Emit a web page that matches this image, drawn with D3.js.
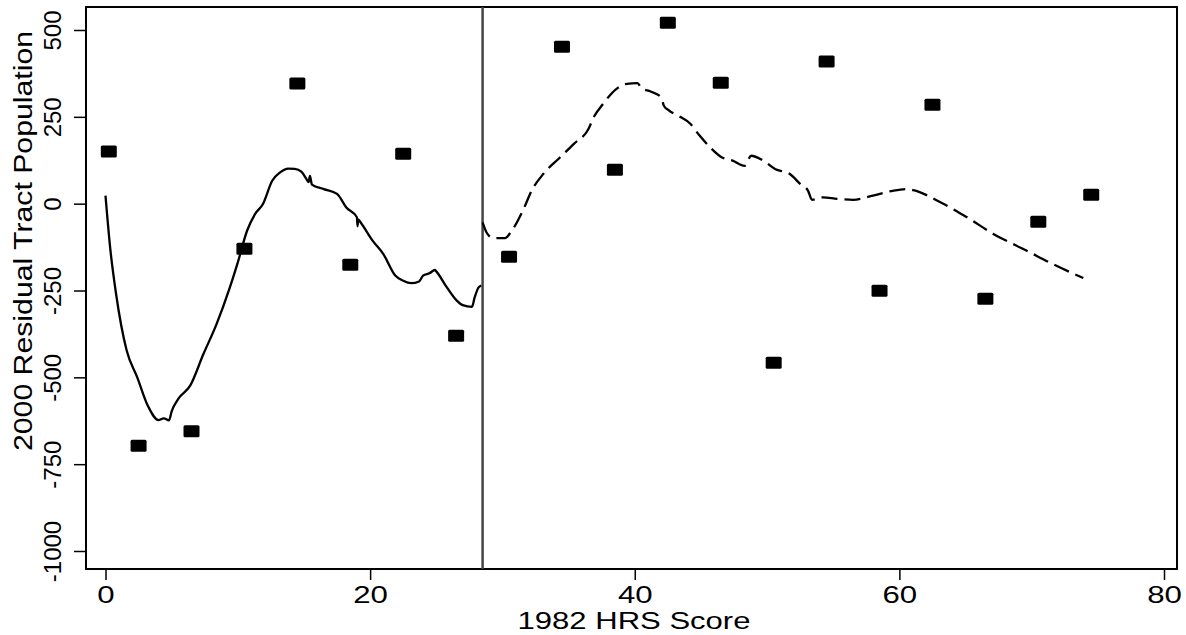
<!DOCTYPE html>
<html>
<head>
<meta charset="utf-8">
<script src="https://cdn.jsdelivr.net/npm/d3@7"></script>
<style>
  html, body { margin: 0; padding: 0; background: #fff; }
  svg { display: block; }
  text { font-family: "Liberation Sans", Arial, sans-serif; fill: #000; }
</style>
</head>
<body>
<svg id="chart" width="1186" height="635"></svg>
<script>
// ---- data ----
const binScores = [0.25, 2.5, 6.5, 10.5, 14.5, 18.5, 22.5, 26.5, 30.5, 34.5, 38.5, 42.5, 46.5, 50.5, 54.5, 58.5, 62.5, 66.5, 70.5, 74.5];
const binResiduals = [150, -697, -655, -130, 346, -176, 144, -380, -153, 452, 98, 521, 348, -458, 409, -251, 285, -274, -52, 26];

const leftSmoothX = [0.0, 0.35, 0.8, 1.6, 2.4, 3.2, 4.0, 4.4, 4.8, 5.0, 5.5, 6.4, 7.4, 8.4, 9.4, 10.0, 10.7, 11.3, 11.9, 12.6, 13.2, 13.8, 14.3, 14.8, 15.2, 15.35, 15.45, 15.6, 16.5, 17.5, 18.2, 19.0, 19.05, 19.1, 19.3, 20.2, 21.0, 21.9, 22.5, 23.1, 23.7, 24.0, 24.5, 24.9, 25.0, 25.8, 26.55, 27.0, 27.7, 27.9, 28.2, 28.4];
const leftSmoothY = [23, -126, -260, -423, -500, -582, -623, -618, -624, -598, -562, -524, -433, -346, -241, -169, -78, -30, -1, 66, 90, 101, 100, 92, 70, 62, 80, 55, 42, 28, -11, -39, -65, -45, -55, -107, -145, -207, -222, -229, -224, -207, -200, -191, -195, -241, -279, -292, -297, -270, -241, -236];

const rightSmoothX = [28.5, 28.8, 29.3, 30.2, 30.7, 31.6, 32.2, 33.1, 34.35, 35.4, 36.5, 36.9, 37.6, 38.6, 39.4, 40.2, 40.5, 41.2, 42.0, 42.2, 42.6, 43.3, 44.2, 44.9, 45.7, 46.6, 47.4, 48.3, 48.8, 49.7, 50.6, 51.7, 52.5, 53.1, 53.4, 54.2, 55.3, 56.5, 58.0, 59.5, 60.6, 61.05, 63.1, 65.1, 67.1, 69.6, 71.6, 73.9];
const rightSmoothY = [-54, -83, -99, -99, -78, -15, 37, 86, 133, 172, 215, 249, 287, 330, 345, 347, 333, 323, 306, 282, 268, 253, 230, 196, 162, 133, 124, 109, 138, 124, 100, 86, 57, 37, 11, 18, 14, 11, 23, 37, 42, 39, 4, -39, -87, -135, -174, -214];

const cutoff = [28.5];
const xTicks = [0, 20, 40, 60, 80];
const yTicks = [-1000, -750, -500, -250, 0, 250, 500];
const xTitle = "1982 HRS Score";
const yTitle = "2000 Residual Tract Population";

// ---- layout ----
const frame = { left: 86, top: 7, right: 1177, bottom: 569 };
const svg = d3.select("#chart");

const x = d3.scaleLinear().domain([0, 80]).range([105.5, 1164]);
const y = d3.scaleLinear().domain([-1000, 500]).range([551, 30]);
const fmt = d => String(d);

// frame
svg.append("rect")
  .attr("x", frame.left).attr("y", frame.top)
  .attr("width", frame.right - frame.left).attr("height", frame.bottom - frame.top)
  .attr("fill", "none").attr("stroke", "#000").attr("stroke-width", 2);

// x axis
const gx = svg.append("g").attr("transform", `translate(0,${frame.bottom})`)
  .call(d3.axisBottom(x).tickValues(xTicks).tickSize(11).tickFormat(fmt));
gx.select(".domain").remove();
gx.selectAll(".tick line").attr("stroke", "#000").attr("stroke-width", 1.5);
gx.selectAll(".tick text")
  .attr("x", 0).attr("y", 0).attr("dy", 0)
  .attr("font-size", 24)
  .attr("transform", "translate(0,34) scale(1.3,1)")
  .style("font-family", '"Liberation Sans", Arial, sans-serif');

// y axis
const gy = svg.append("g").attr("transform", `translate(${frame.left},0)`)
  .call(d3.axisLeft(y).tickValues(yTicks).tickSize(12).tickFormat(fmt));
gy.select(".domain").remove();
gy.selectAll(".tick line").attr("stroke", "#000").attr("stroke-width", 1.5);
gy.selectAll(".tick text")
  .attr("x", 0).attr("y", 0).attr("dy", 0)
  .attr("text-anchor", "middle")
  .attr("font-size", 24)
  .attr("transform", "translate(-25,0) rotate(-90)")
  .style("font-family", '"Liberation Sans", Arial, sans-serif');

// axis titles
svg.append("text")
  .attr("transform", `translate(634,629) scale(1.35,1)`)
  .attr("text-anchor", "middle")
  .attr("font-size", 23)
  .text(xTitle);

svg.append("text")
  .attr("transform", `translate(32,241) rotate(-90)`)
  .attr("text-anchor", "middle")
  .attr("font-size", 25)
  .attr("textLength", 420)
  .attr("lengthAdjust", "spacingAndGlyphs")
  .text(yTitle);

// cutoff line
svg.selectAll(".cutoff").data(cutoff).enter().append("line")
  .attr("x1", d => x(d)).attr("x2", d => x(d))
  .attr("y1", frame.top).attr("y2", frame.bottom)
  .attr("stroke", "#444").attr("stroke-width", 2.5);

// smooth lines
const line = d3.line().x(d => x(d[0])).y(d => y(d[1])).curve(d3.curveMonotoneX);
const leftPts = leftSmoothX.map((v, i) => [v, leftSmoothY[i]]);
const rightPts = rightSmoothX.map((v, i) => [v, rightSmoothY[i]]);

svg.append("path").datum(leftPts)
  .attr("d", line).attr("fill", "none")
  .attr("stroke", "#000").attr("stroke-width", 2.3).attr("stroke-linejoin", "round");

svg.append("path").datum(rightPts)
  .attr("d", line).attr("fill", "none")
  .attr("stroke", "#000").attr("stroke-width", 2.3)
  .attr("stroke-dasharray", "16,7");

// points
svg.selectAll(".pt").data(binScores.map((v, i) => [v, binResiduals[i]])).enter()
  .append("rect")
  .attr("x", d => x(d[0]) - 8).attr("y", d => y(d[1]) - 6)
  .attr("width", 16).attr("height", 12).attr("rx", 1.5)
  .attr("fill", "#000");
</script>
</body>
</html>
